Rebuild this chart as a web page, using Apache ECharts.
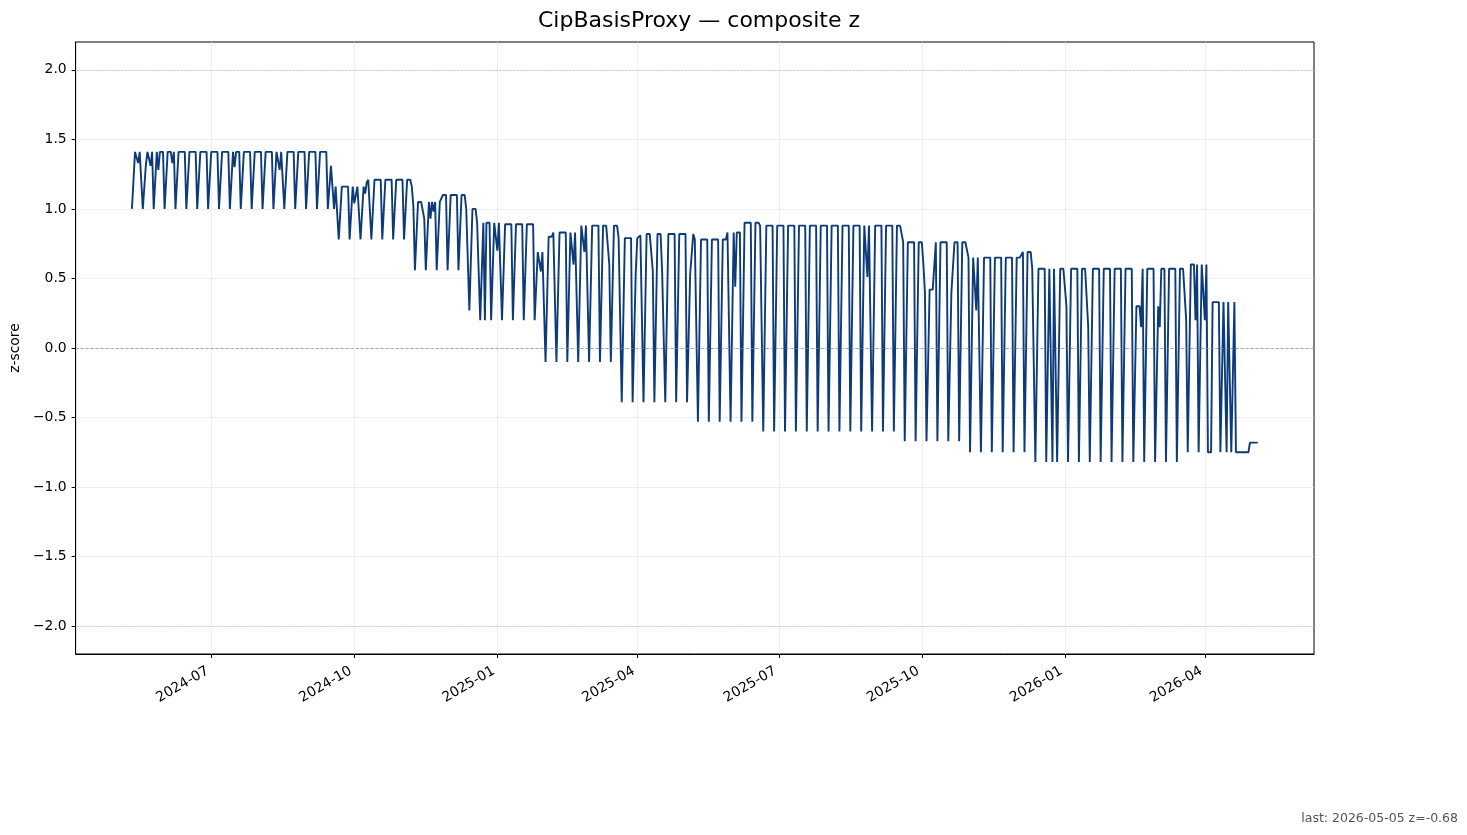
<!DOCTYPE html>
<html><head><meta charset="utf-8">
<script src="https://cdn.jsdelivr.net/npm/echarts@6/dist/echarts.min.js"></script>
<style>html,body{margin:0;padding:0;background:#fff}#c{width:1467px;height:835px}</style>
</head><body><div id="c"></div>
<script>
// ---- data ----
const START_DATE = '2024-05-11'; // first daily observation (Saturday)
// daily composite z values, one row per week: Sat, Sun, Mon, Tue, Wed, Thu, Fri
const zValues = [
1.00,1.00,1.41,1.41,1.33,1.41,1.41,
1.00,1.00,1.32,1.41,1.41,1.31,1.41,
1.00,1.00,1.41,1.28,1.41,1.41,1.41,
1.00,1.00,1.41,1.41,1.41,1.33,1.41,
1.00,1.00,1.41,1.41,1.41,1.41,1.41,
1.00,1.00,1.41,1.41,1.41,1.41,1.41,
1.00,1.00,1.41,1.41,1.41,1.41,1.41,
1.00,1.00,1.41,1.41,1.41,1.41,1.41,
1.00,1.00,1.41,1.41,1.41,1.41,1.41,
1.00,1.00,1.41,1.30,1.41,1.41,1.41,
1.00,1.00,1.41,1.41,1.41,1.41,1.41,
1.00,1.00,1.41,1.41,1.41,1.41,1.41,
1.00,1.00,1.41,1.41,1.41,1.41,1.41,
1.00,1.00,1.41,1.41,1.28,1.41,1.41,
1.00,1.00,1.41,1.41,1.41,1.41,1.41,
1.00,1.00,1.41,1.41,1.41,1.41,1.41,
1.00,1.00,1.41,1.41,1.41,1.41,1.41,
1.00,1.00,1.41,1.41,1.41,1.41,1.41,
1.00,1.00,1.31,1.31,1.00,1.16,1.16,
0.78,0.78,1.16,1.16,1.16,1.16,1.16,
0.78,0.78,1.16,1.04,1.10,1.16,1.16,
0.78,0.78,1.16,1.11,1.19,1.21,1.21,
0.78,0.78,1.21,1.21,1.21,1.21,1.21,
0.78,0.78,1.21,1.21,1.21,1.21,1.21,
0.78,0.78,1.21,1.21,1.21,1.21,1.21,
0.78,0.78,1.21,1.21,1.21,1.16,1.02,
0.56,0.56,1.05,1.05,1.05,1.05,0.93,
0.56,0.56,1.05,0.93,1.05,0.98,1.05,
0.56,0.56,1.05,1.05,1.10,1.10,1.10,
0.56,0.56,1.10,1.10,1.10,1.10,1.10,
0.56,0.56,1.10,1.10,1.10,1.00,1.00,
0.27,0.27,1.00,1.00,1.00,0.90,0.90,
0.20,0.20,0.90,0.20,0.90,0.90,0.90,
0.20,0.20,0.90,0.90,0.70,0.90,0.90,
0.20,0.20,0.89,0.89,0.89,0.89,0.89,
0.20,0.20,0.89,0.89,0.89,0.89,0.89,
0.20,0.20,0.89,0.89,0.89,0.89,0.89,
0.20,0.20,0.69,0.69,0.55,0.69,0.69,
-0.10,-0.10,0.80,0.80,0.80,0.83,0.83,
-0.10,-0.10,0.83,0.83,0.83,0.83,0.83,
-0.10,-0.10,0.83,0.83,0.60,0.83,0.84,
-0.10,-0.10,0.88,0.88,0.69,0.88,0.88,
-0.10,-0.10,0.88,0.88,0.88,0.88,0.88,
-0.10,-0.10,0.88,0.88,0.88,0.88,0.60,
-0.10,-0.10,0.88,0.88,0.88,0.79,0.79,
-0.39,-0.39,0.79,0.79,0.79,0.79,0.79,
-0.39,-0.39,0.54,0.79,0.79,0.81,0.81,
-0.39,-0.39,0.82,0.82,0.82,0.82,0.55,
-0.39,-0.39,0.82,0.82,0.82,0.54,0.54,
-0.39,-0.39,0.82,0.82,0.82,0.82,0.82,
-0.39,-0.39,0.82,0.82,0.82,0.82,0.82,
-0.39,-0.39,0.53,0.53,0.82,0.78,0.78,
-0.53,-0.53,0.78,0.78,0.78,0.78,0.78,
-0.53,-0.53,0.78,0.78,0.78,0.78,0.78,
-0.53,-0.53,0.78,0.78,0.78,0.83,0.83,
-0.53,-0.53,0.83,0.44,0.83,0.83,0.83,
-0.53,-0.53,0.90,0.90,0.90,0.90,0.90,
-0.53,-0.53,0.90,0.90,0.90,0.88,0.88,
-0.60,-0.60,0.88,0.88,0.88,0.88,0.88,
-0.60,-0.60,0.88,0.88,0.88,0.88,0.88,
-0.60,-0.60,0.88,0.88,0.88,0.88,0.88,
-0.60,-0.60,0.88,0.88,0.88,0.88,0.88,
-0.60,-0.60,0.88,0.88,0.88,0.88,0.88,
-0.60,-0.60,0.88,0.88,0.88,0.88,0.88,
-0.60,-0.60,0.88,0.88,0.88,0.88,0.88,
-0.60,-0.60,0.88,0.88,0.88,0.88,0.88,
-0.60,-0.60,0.88,0.88,0.88,0.88,0.88,
-0.60,-0.60,0.88,0.88,0.51,0.88,0.88,
-0.60,-0.60,0.88,0.88,0.88,0.88,0.88,
-0.60,-0.60,0.88,0.88,0.88,0.88,0.88,
-0.60,-0.60,0.88,0.88,0.88,0.88,0.76,
-0.67,-0.67,0.76,0.76,0.76,0.76,0.76,
-0.67,-0.67,0.76,0.76,0.76,0.60,0.40,
-0.67,-0.67,0.42,0.42,0.42,0.42,0.76,
-0.67,-0.67,0.76,0.76,0.76,0.76,0.76,
-0.67,-0.67,0.40,0.40,0.76,0.76,0.76,
-0.67,-0.67,0.76,0.76,0.76,0.76,0.65,
-0.75,-0.75,0.65,0.65,0.27,0.65,0.65,
-0.75,-0.75,0.65,0.65,0.65,0.65,0.65,
-0.75,-0.75,0.65,0.65,0.65,0.65,0.65,
-0.75,-0.75,0.65,0.65,0.65,0.65,0.65,
-0.75,-0.75,0.65,0.65,0.65,0.65,0.69,
-0.75,-0.75,0.69,0.69,0.69,0.57,0.57,
-0.82,-0.82,0.57,0.57,0.57,0.57,0.57,
-0.82,-0.82,0.57,0.57,-0.82,0.57,0.57,
-0.82,-0.82,0.57,0.57,0.57,0.57,0.30,
-0.82,-0.82,0.57,0.57,0.57,0.57,0.57,
-0.82,-0.82,0.57,0.57,0.57,0.57,0.15,
-0.82,-0.82,0.57,0.57,0.57,0.57,0.57,
-0.82,-0.82,0.57,0.57,0.57,0.57,0.57,
-0.82,-0.82,0.57,0.57,0.57,0.57,0.57,
-0.82,-0.82,0.57,0.57,0.57,0.57,0.57,
-0.82,-0.82,0.30,0.30,0.30,0.15,0.57,
-0.82,-0.82,0.57,0.57,0.57,0.57,0.57,
-0.82,-0.82,0.30,0.15,0.57,0.57,0.57,
-0.82,-0.82,0.57,0.57,0.57,0.57,0.57,
-0.82,-0.82,0.57,0.57,0.57,0.57,0.20,
-0.75,-0.75,0.60,0.60,0.60,0.20,0.60,
-0.75,-0.75,0.60,0.60,0.20,0.60,-0.75,
-0.75,-0.75,0.33,0.33,0.33,0.33,0.33,
-0.75,-0.75,0.33,0.33,-0.75,0.33,0.33,
-0.75,-0.75,0.33,-0.75,-0.75,-0.75,-0.75,
-0.75,-0.75,-0.75,-0.75,-0.75,-0.68,-0.68,
-0.68,-0.68,-0.68,-0.68
];
const xTickDates = ['2024-07-01','2024-10-01','2025-01-01','2025-04-01','2025-07-01','2025-10-01','2026-01-01','2026-04-01'];
const yTicks = [-2, -1.5, -1, -0.5, 0, 0.5, 1, 1.5, 2];
const bandLines = [-2, 2];
const zeroLine = 0;
const titleText = 'CipBasisProxy — composite z';
const yLabel = 'z-score';
const footnote = 'last: 2026-05-05 z=-0.68';

// ---- build ----
const DAY = 86400000;
const t0 = Date.parse(START_DATE + 'T00:00:00Z');
const seriesData = zValues.map((v, i) => [t0 + i * DAY, v]);
const tEnd = t0 + (zValues.length - 1) * DAY;
const pad = (tEnd - t0) * 0.05;
const xTicks = xTickDates.map(d => Date.parse(d + 'T00:00:00Z'));
const FONT = 'DejaVu Sans';
const fmtX = v => { const d = new Date(v); return d.getUTCFullYear() + '-' + String(d.getUTCMonth() + 1).padStart(2, '0'); };
const fmtY = v => (v < 0 ? '\u2212' : '') + Math.abs(v).toFixed(1);

const chart = echarts.init(document.getElementById('c'), null, { renderer: 'canvas' });
chart.setOption({
  animation: false,
  backgroundColor: '#fff',
  textStyle: { fontFamily: FONT },
  title: {
    text: titleText, left: 694, top: 5, textAlign: 'center',
    textStyle: { fontFamily: FONT, fontSize: 22, fontWeight: 'normal', color: '#000' }
  },
  grid: { left: 74, right: 153, top: 42, bottom: 181, show: true, borderColor: '#000', borderWidth: 1, backgroundColor: 'transparent' },
  xAxis: {
    type: 'value', min: t0 - pad, max: tEnd + pad, scale: true,
    axisLine: { show: true, onZero: false, lineStyle: { color: '#000', width: 1 } },
    axisTick: { show: true, length: 4, customValues: xTicks, lineStyle: { color: '#000' } },
    axisLabel: { customValues: xTicks, formatter: fmtX, rotate: 30, margin: 14, padding: [0, 4, 0, 0], fontSize: 13.9, color: '#000', fontFamily: FONT },
    splitLine: { show: true, lineStyle: { color: '#e8e8e8', width: 0.8 } }
  },
  yAxis: {
    type: 'value', min: -2.2, max: 2.2,
    name: yLabel, nameLocation: 'middle', nameGap: 44, nameRotate: 90,
    nameTextStyle: { fontFamily: FONT, fontSize: 13.9, color: '#000' },
    axisLine: { show: true, onZero: false, lineStyle: { color: '#000', width: 1 } },
    axisTick: { show: true, length: 4, customValues: yTicks, lineStyle: { color: '#000' } },
    axisLabel: { customValues: yTicks, formatter: fmtY, margin: 9, fontSize: 13.9, color: '#000', fontFamily: FONT },
    splitLine: { show: true, lineStyle: { color: '#e8e8e8', width: 0.8 } }
  },
  graphic: [{
    type: 'text', right: 9, bottom: 10,
    style: { text: footnote, fontFamily: FONT, fontSize: 12.5, fill: '#555' }
  }],
  series: [{
    type: 'line', data: seriesData, showSymbol: false, symbol: 'none',
    lineStyle: { color: '#0d3b7a', width: 1.9 }, itemStyle: { color: '#0d3b7a' },
    z: 3,
    markLine: {
      silent: true, symbol: ['none', 'none'], label: { show: false }, animation: false,
      data: [
        { yAxis: zeroLine, lineStyle: { color: '#888', type: [3, 2], width: 0.7 } },
        ...bandLines.map(b => ({ yAxis: b, lineStyle: { color: '#e9b8bd', type: [2, 1.5], width: 0.8 } }))
      ]
    }
  }]
});
</script></body></html>
